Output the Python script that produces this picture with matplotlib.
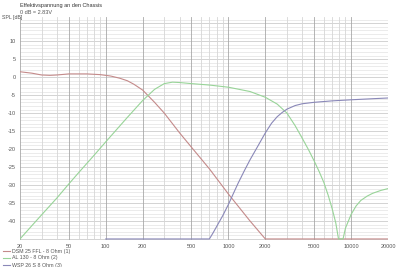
import numpy as np
import matplotlib
matplotlib.use("Agg")
import matplotlib.pyplot as plt
from matplotlib.lines import Line2D

# --- Daten ---
freq_red = [20, 25, 30, 35, 40, 50, 70, 90, 110, 130, 150, 170, 200, 250, 300,
            400, 500, 700, 1000, 1500, 2000, 5000, 10000, 20000]
spl_red = [1.5, 1.1, 0.6, 0.5, 0.6, 0.9, 0.9, 0.7, 0.3, -0.3, -1.0, -2.0, -3.6,
           -7.0, -10.0, -15.5, -19.5, -25.5, -32.5, -40.0, -45.0, -45.0, -45.0, -45.0]

freq_green = [20, 25, 30, 40, 50, 60, 80, 100, 150, 200, 250, 300, 350, 400, 500,
              700, 1000, 1500, 2000, 2500, 3000, 3500, 4000, 4500, 5000, 5500,
              6000, 6500, 7000, 7500, 7900, 8600, 9000, 10000, 11000, 12000,
              13500, 15000, 17500, 20000]
spl_green = [-45.0, -41.3, -38.3, -33.6, -29.7, -26.6, -21.8, -18.0, -11.2, -6.5,
             -3.4, -1.8, -1.4, -1.5, -1.8, -2.2, -2.8, -4.0, -5.6, -7.5, -10.0,
             -13.5, -17.0, -20.2, -23.3, -26.3, -29.3, -32.8, -36.5, -40.5,
             -45.0, -45.0, -42.0, -38.2, -35.8, -34.3, -33.1, -32.3, -31.5, -31.0]

freq_blue = [100, 200, 500, 700, 750, 800, 900, 1000, 1100, 1200, 1350, 1500,
             1750, 2000, 2250, 2500, 2750, 3000, 3500, 4000, 5000, 7000, 10000,
             15000, 20000]
spl_blue = [-45.0, -45.0, -45.0, -45.0, -43.3, -41.6, -38.5, -35.4, -32.3, -29.5,
            -26.0, -23.0, -19.0, -15.5, -12.8, -11.0, -9.8, -8.9, -7.9, -7.4,
            -7.0, -6.6, -6.3, -6.0, -5.8]

labels = ["DSM 25 FFL - 8 Ohm (1)", "AL 130 - 8 Ohm (2)", "WSP 26 S 8 Ohm (3)"]
colors = ["#c48a8a", "#98d498", "#8a88b8"]

x_ticks = [20, 50, 100, 200, 500, 1000, 2000, 5000, 10000, 20000]
y_ticks = list(range(-40, 15, 5))

plt.rcParams["font.family"] = ["Liberation Sans", "DejaVu Sans"]

fig = plt.figure(figsize=(4.0, 2.67), dpi=100)
ax = fig.add_axes([0.05, 0.101, 0.92, 0.835])
ax.set_xscale("log")
ax.set_xlim(20, 20000)
ax.set_ylim(-45.3, 16.7)

# Gitter
for y in range(-45, 17):
    c = "#cccccc" if y % 5 == 0 else "#e8e8e8"
    ax.axhline(y, color=c, lw=0.6, zorder=0)
for dec in [10, 100, 1000, 10000]:
    for m in range(1, 10):
        f = dec * m
        if f < 20 or f > 20000:
            continue
        c = "#a8a8a8" if m in (1, 2, 5) else "#d6d6d6"
        ax.axvline(f, color=c, lw=0.6, zorder=0)

ax.plot(freq_red, spl_red, color=colors[0], lw=0.8, zorder=3)
ax.plot(freq_green, spl_green, color=colors[1], lw=0.8, zorder=3)
ax.plot(freq_blue, spl_blue, color=colors[2], lw=0.8, zorder=3)

for s in ax.spines.values():
    s.set_visible(False)
ax.tick_params(length=0, labelsize=4.0, colors="#555555", pad=3)
ax.set_xticks(x_ticks)
ax.set_xticklabels([str(t) for t in x_ticks])
ax.minorticks_off()
ax.set_yticks(y_ticks)
ax.set_yticklabels([str(t) for t in y_ticks])
fig.text(2 / 400, 1 - 17 / 267, "SPL [dB]", ha="left", va="center",
         fontsize=3.8, color="#555555")

fig.text(20 / 400, 1 - 6 / 267, "Effektivspannung an den Chassis", fontsize=4.0,
         color="#333333", va="center")
fig.text(20 / 400, 1 - 12.5 / 267, "0 dB = 2.83V", fontsize=4.0, color="#555555", va="center")

# Legende
for i, (lab, col) in enumerate(zip(labels, colors)):
    yy = 1 - (251 + 7 * i) / 267
    fig.add_artist(Line2D([3 / 400, 10 / 400], [yy, yy], color=col, lw=0.8))
    fig.text(12 / 400, yy, lab, fontsize=3.8, color="#555555", va="center")

fig.savefig("out.png", dpi=100)
